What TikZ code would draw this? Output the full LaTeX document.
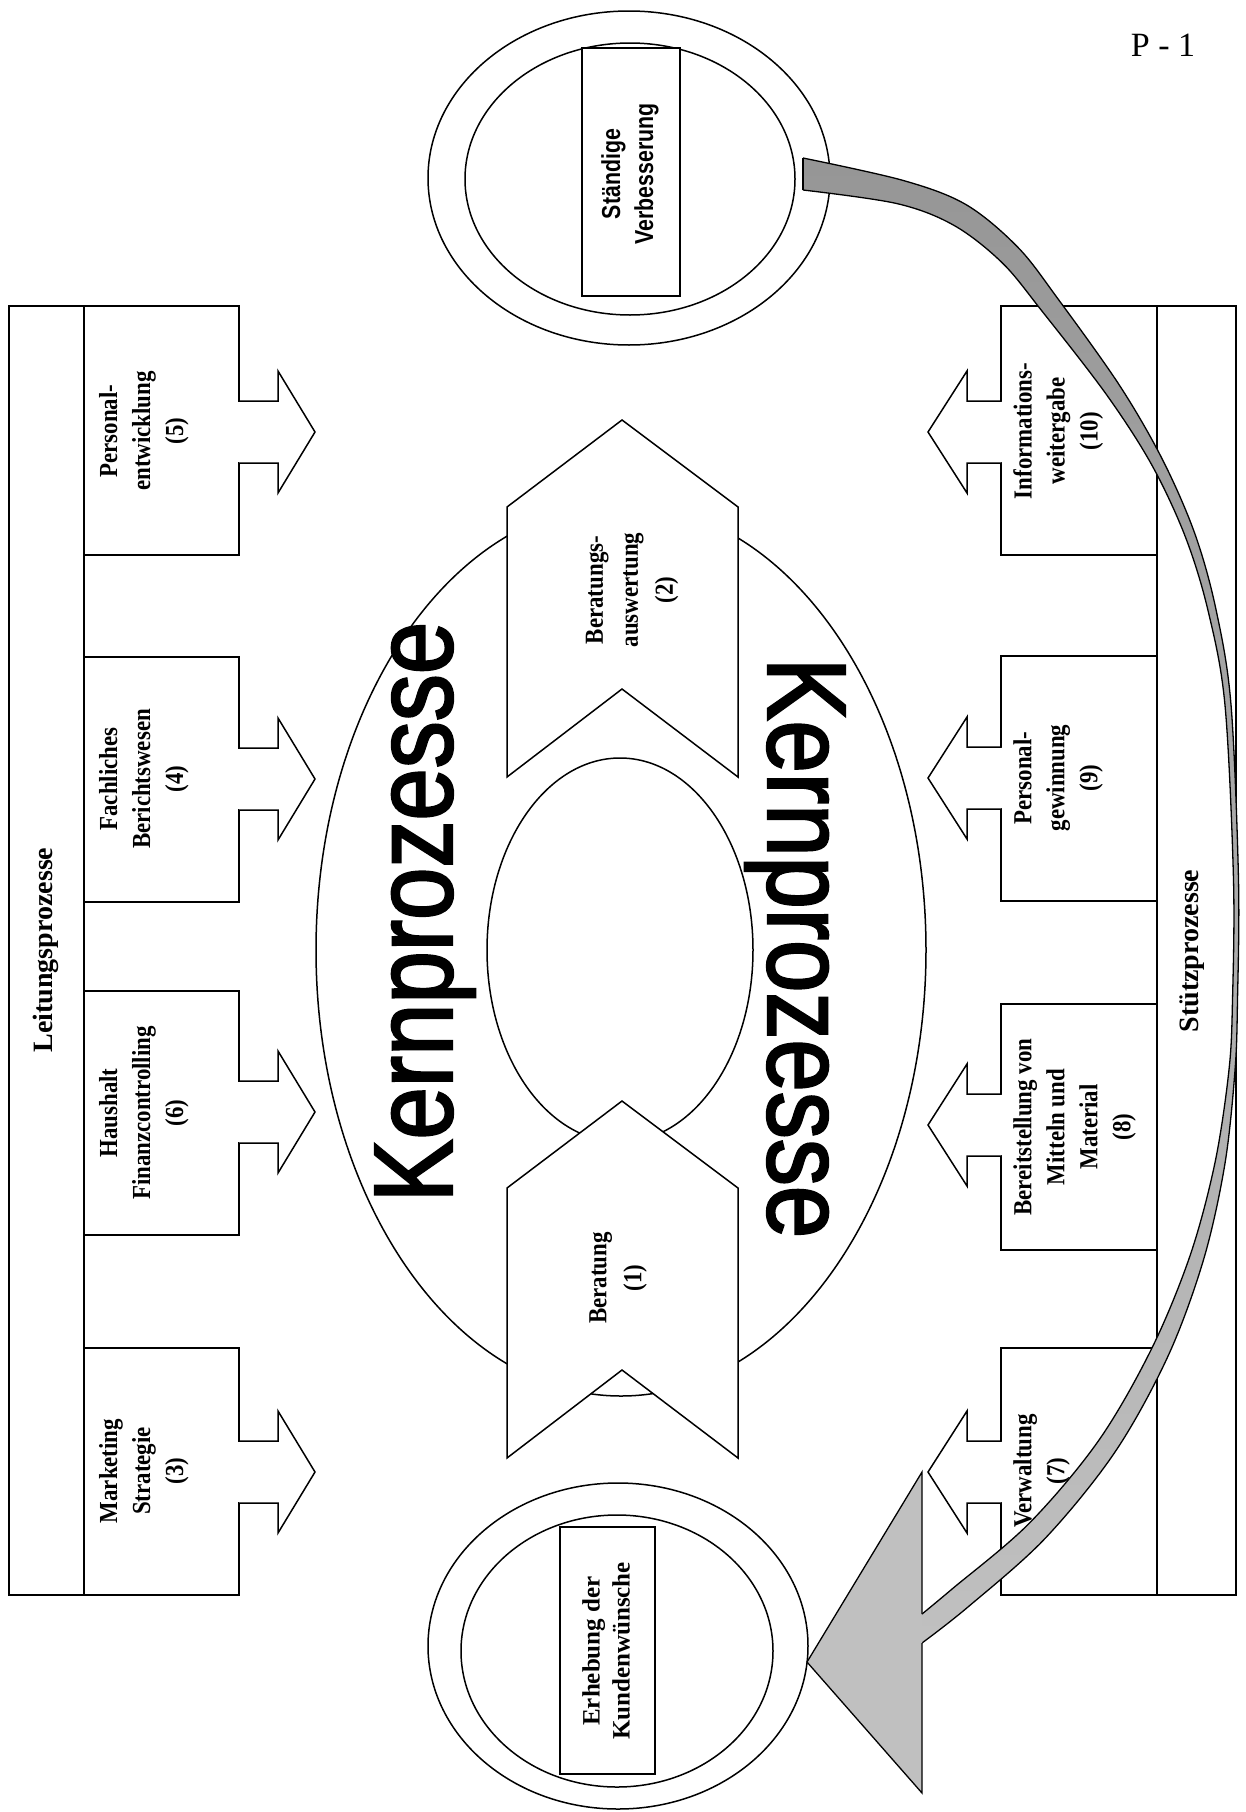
\documentclass[tikz,border=0pt]{standalone}
\usepackage{fontspec}
\setmainfont{Liberation Serif}
\newfontfamily\boxfont[FakeStretch=0.88]{Liberation Serif}
\newfontfamily\kernfont[FakeStretch=0.84,FakeBold=2]{Liberation Sans}
\newfontfamily\svfont[FakeStretch=0.82]{Liberation Sans}
\definecolor{bandtop}{HTML}{969696}
\definecolor{bandbot}{HTML}{C0C0C0}
\definecolor{headgray}{HTML}{C0C0C0}
\tikzset{
  ln/.style={draw=black, line width=1.5pt, line join=miter},
  boxlabel/.style={rotate=90, anchor=north, align=center, inner sep=0pt,
    font=\boxfont\bfseries\fontsize{26}{33}\selectfont},
  chevlabel/.style={rotate=90, anchor=center, align=center, inner sep=0pt,
    font=\boxfont\bfseries\fontsize{26}{35}\selectfont},
  barlabel/.style={rotate=90, anchor=center, inner sep=0pt,
    font=\bfseries\fontsize{28}{30}\selectfont},
  kern/.style={anchor=base, inner sep=0pt, font=\kernfont\fontsize{112}{112}\selectfont},
}
\begin{document}
\begin{tikzpicture}[x=1pt,y=-1pt]
\fill[white] (0,0) rectangle (1245,1812);
\useasboundingbox (0,0) rectangle (1245,1812);

% central ellipses
\draw[ln, fill=white] (621,950) ellipse [x radius=305pt, y radius=446pt];
\draw[ln, fill=white] (620,950) ellipse [x radius=133pt, y radius=192pt];

% chevrons
\draw[ln, fill=white] (507,507) -- (622,420) -- (738,507) -- (738,777) -- (622,689) -- (507,777) -- cycle;
\draw[ln, fill=white] (507,1188) -- (622,1101) -- (738,1188) -- (738,1458) -- (622,1370) -- (507,1458) -- cycle;
\node[chevlabel] (c2) at (632,590) {Beratungs-\\auswertung\\(2)};
\node[chevlabel] (c1) at (618,1278) {Beratung\\(1)};

% Kernprozesse
\node[kern, rotate=90] (kp1) at (452,912) {Kernprozesse};
\node[kern, rotate=-90] (kp2) at (768,948) {Kernprozesse};

% left bar and boxes
\draw[ln] (9,306) rectangle (84,1595);
\node[barlabel] (lp) at (46,950) {Leitungsprozesse};
\foreach \t/\b in {306/555, 657/902, 991/1235, 1348/1595}{
  \draw[ln] (84,\t) rectangle (239,\b);
}
\foreach \c in {432,779,1112,1472}{
  \fill[white] (236,\c-30) rectangle (278,\c+30);
  \draw[ln, fill=white] (239,\c-31) -- (278,\c-31) -- (278,\c-61) -- (315,\c) -- (278,\c+61) -- (278,\c+31) -- (239,\c+31);
}
\node[boxlabel] (b5) at (99,431) {Personal-\\entwicklung\\(5)};
\node[boxlabel] (b4) at (99,779) {Fachliches\\Berichtswesen\\(4)};
\node[boxlabel] (b6) at (99,1113) {Haushalt\\Finanzcontrolling\\(6)};
\node[boxlabel] (b3) at (99,1471) {Marketing\\Strategie\\(3)};

% right bar and boxes
\draw[ln] (1157,306) rectangle (1236,1595);
\node[barlabel] (sp) at (1192,951) {Stützprozesse};
\foreach \t/\b in {306/555, 656/901, 1004/1250, 1348/1595}{
  \draw[ln] (1001,\t) rectangle (1157,\b);
}
\foreach \c in {432,778,1125,1472}{
  \fill[white] (967,\c-30) rectangle (1004,\c+30);
  \draw[ln, fill=white] (1001,\c-31) -- (967,\c-31) -- (967,\c-61) -- (928,\c) -- (967,\c+61) -- (967,\c+31) -- (1001,\c+31);
}
\node[boxlabel] (b10) at (1013,431) {Informations-\\weitergabe\\(10)};
\node[boxlabel] (b9) at (1013,778) {Personal-\\gewinnung\\(9)};
\node[boxlabel] (b8) at (1013,1127) {Bereitstellung von\\Mitteln und\\Material\\(8)};
\node[boxlabel] (b7) at (1013,1471) {Verwaltung\\(7)};

% top circle
\draw[ln, fill=white] (629,178) ellipse [x radius=201pt, y radius=167pt];
\draw[ln, fill=white] (630,179) ellipse [x radius=165pt, y radius=136pt];
\draw[ln, fill=white] (582,48) rectangle (680,296);
\node[rotate=90, align=center, inner sep=0pt, font=\svfont\bfseries\fontsize{26}{33}\selectfont] (sv) at (630,174) {Ständige\\Verbesserung};

% bottom circle
\draw[ln, fill=white] (618,1646) ellipse [x radius=190pt, y radius=163pt];
\draw[ln, fill=white] (617,1651) ellipse [x radius=156pt, y radius=136pt];
\draw[ln, fill=white] (560,1527) rectangle (655,1774);
\node[rotate=90, align=center, inner sep=0pt, font=\bfseries\fontsize{25}{30}\selectfont] (ek) at (606,1651) {Erhebung der\\Kundenwünsche};

% page label
\node[font=\fontsize{34}{36}\selectfont, inner sep=0pt] (pl) at (1163,45) {P - 1};

% curved band (feedback arrow)
\shade[top color=bandtop, bottom color=bandbot]
  (803,158) -- plot[smooth, tension=0.55] coordinates {(803,158) (903.0,180.4) (966.0,204.6) (1017.8,247.2) (1058.0,298.9) (1119.6,385.5) (1162.3,459.2) (1194.7,533.3) (1215.9,609.1) (1231.0,704.7) (1238.5,880) (1237.5,1000) (1235.0,1070.3) (1224.9,1163.9) (1203.7,1259.1) (1168.1,1355.9) (1115.2,1451.7) (1044.9,1538.6) (967.7,1607.2) (922,1643)}
  -- plot[smooth, tension=0.55] coordinates {(922,1614) (952.3,1588.8) (1029.1,1523.4) (1098.8,1440.3) (1151.9,1348.1) (1190.3,1254.9) (1215.1,1162.1) (1229.0,1069.7) (1232.5,1000) (1233.5,880) (1225.0,705.3) (1208.1,610.9) (1185.3,536.7) (1151.7,464.8) (1106.4,394.5) (1042.0,311.1) (1002.2,262.8) (954.0,225.4) (897.0,203.6) (803,190)} -- cycle;
\draw[line width=1.3pt] plot[smooth, tension=0.55] coordinates {(803,158) (903.0,180.4) (966.0,204.6) (1017.8,247.2) (1058.0,298.9) (1119.6,385.5) (1162.3,459.2) (1194.7,533.3) (1215.9,609.1) (1231.0,704.7) (1238.5,880) (1237.5,1000) (1235.0,1070.3) (1224.9,1163.9) (1203.7,1259.1) (1168.1,1355.9) (1115.2,1451.7) (1044.9,1538.6) (967.7,1607.2) (922,1643)};
\draw[line width=1.3pt] plot[smooth, tension=0.55] coordinates {(922,1614) (952.3,1588.8) (1029.1,1523.4) (1098.8,1440.3) (1151.9,1348.1) (1190.3,1254.9) (1215.1,1162.1) (1229.0,1069.7) (1232.5,1000) (1233.5,880) (1225.0,705.3) (1208.1,610.9) (1185.3,536.7) (1151.7,464.8) (1106.4,394.5) (1042.0,311.1) (1002.2,262.8) (954.0,225.4) (897.0,203.6) (803,190)};
\draw[line width=1.3pt] (803,158) -- (803,190);
% arrow head
\fill[headgray] (922,1472) -- (807,1662) -- (922,1793) -- cycle;
\draw[line width=1.3pt, line join=miter] (922,1614) -- (922,1472) -- (807,1662) -- (922,1793) -- (922,1643);
\end{tikzpicture}
\end{document}
